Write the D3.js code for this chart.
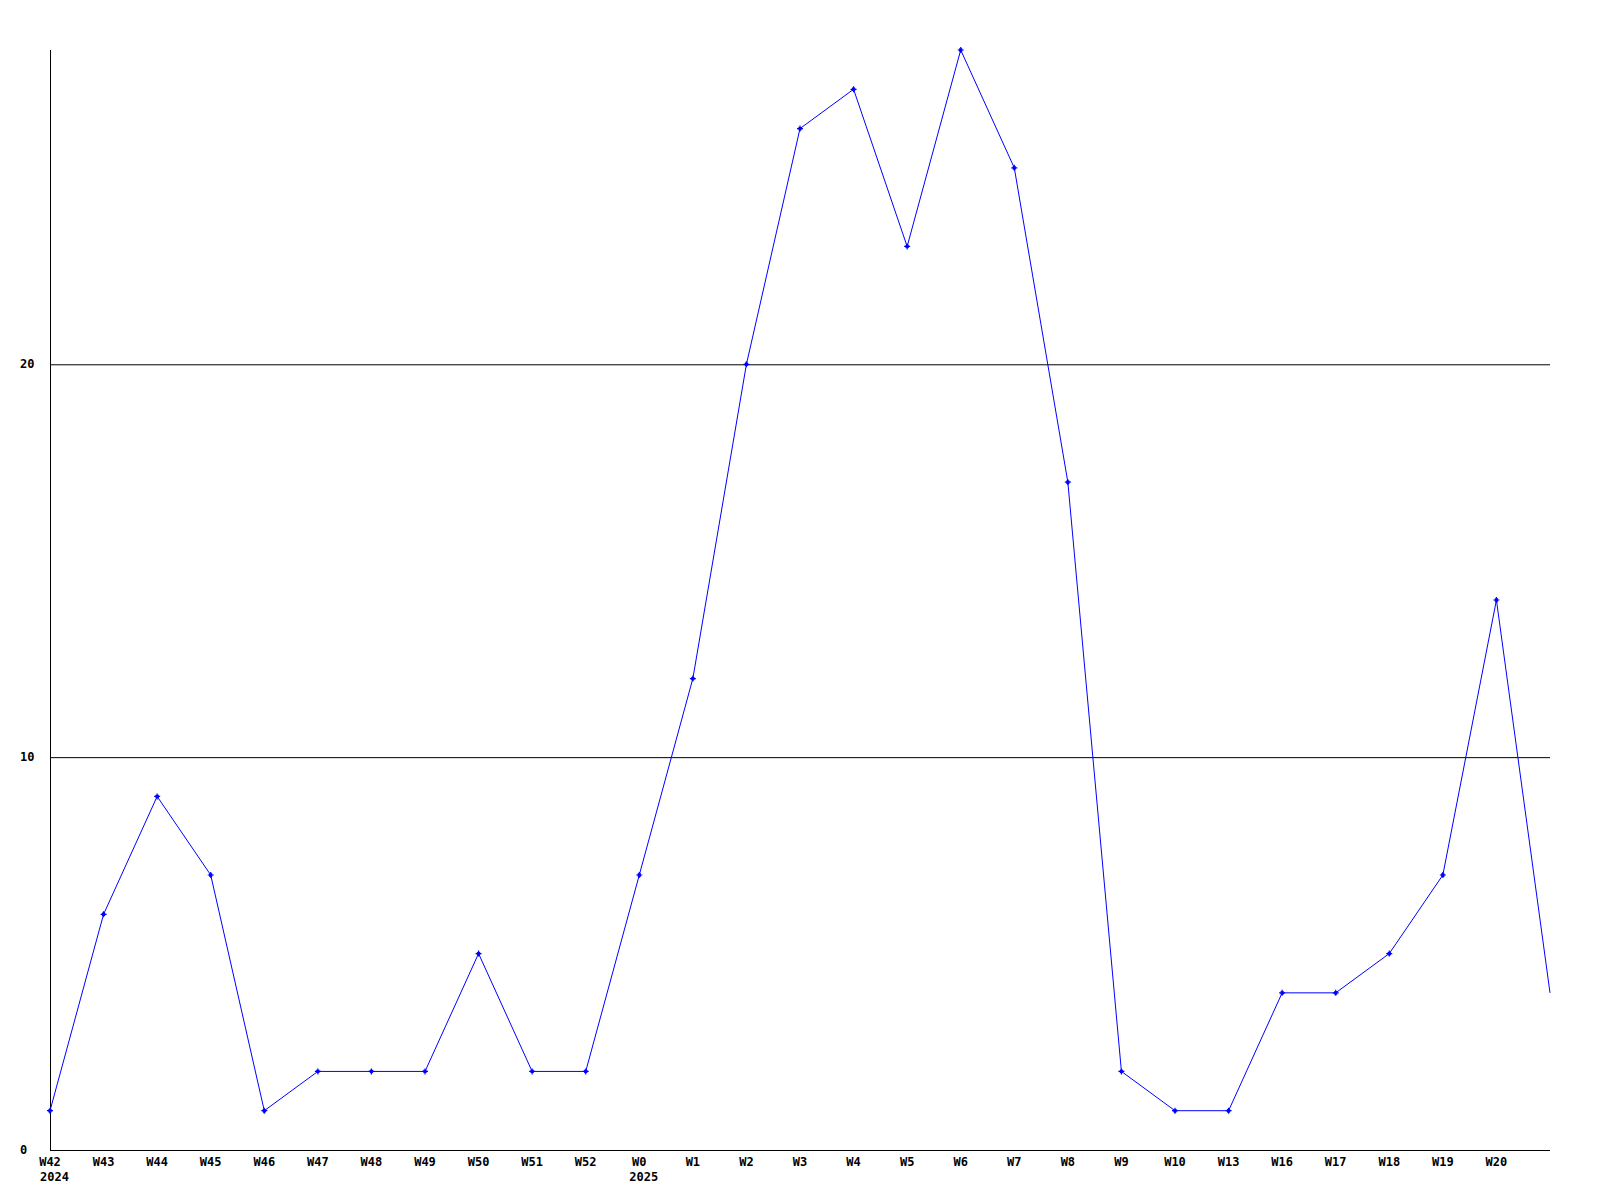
<!DOCTYPE html>
<html><head><meta charset="utf-8">
<script src="https://cdn.jsdelivr.net/npm/d3@7"></script>
<style>body{margin:0;background:#fff}svg{display:block}text{font-family:"DejaVu Sans Mono","Liberation Mono",monospace;font-weight:bold;font-size:12px;fill:#000}</style>
</head><body><svg id="c" width="1600" height="1200"></svg>
<script>
const weeks = ["W42","W43","W44","W45","W46","W47","W48","W49","W50","W51","W52","W0","W1","W2","W3","W4","W5","W6","W7","W8","W9","W10","W13","W16","W17","W18","W19","W20",""];
const values = [1,6,9,7,1,2,2,2,5,2,2,7,12,20,26,27,23,28,25,17,2,1,1,4,4,5,7,14,4];
const yearLabels = [{index:0,label:"2024"},{index:11,label:"2025"}];
const yTicks = [0,10,20];

const svg = d3.select("#c");
const x = d3.scaleLinear().domain([0, values.length-1]).range([50,1550]);
const y = d3.scaleLinear().domain([0,28]).range([1150,50]);

svg.selectAll("line.grid").data(yTicks.filter(d=>d>0)).enter().append("line")
  .attr("x1",50).attr("x2",1550).attr("y1",d=>y(d)+0.5).attr("y2",d=>y(d)+0.5)
  .attr("stroke","#000").attr("stroke-width",1);
svg.append("line").attr("x1",50.5).attr("x2",50.5).attr("y1",50).attr("y2",1150).attr("stroke","#000");
svg.append("line").attr("x1",50).attr("x2",1550).attr("y1",1150.5).attr("y2",1150.5).attr("stroke","#000");
svg.selectAll("text.yl").data(yTicks).enter().append("text")
  .attr("x",20).attr("y",d=>y(d)+4).text(d=>d);
svg.selectAll("text.xl").data(weeks).enter().append("text")
  .attr("x",(d,i)=>x(i)).attr("y",1166).attr("text-anchor","middle").text(d=>d);
svg.selectAll("text.yr").data(yearLabels).enter().append("text")
  .attr("x",d=>x(d.index)-10).attr("y",1181).text(d=>d.label);
svg.append("path").datum(values)
  .attr("d", d3.line().x((d,i)=>x(i)).y(d=>y(d)))
  .attr("fill","none").attr("stroke","#0000ff").attr("stroke-width",1);
const mk = values.slice(0, values.length-1);
svg.selectAll("path.m").data(mk).enter().append("path")
  .attr("d","M-3,0H3M0,-3V3M-1.5,-1.5L1.5,1.5M-1.5,1.5L1.5,-1.5")
  .attr("transform",(d,i)=>`translate(${x(i)},${y(d)})`)
  .attr("stroke","#0000ff").attr("stroke-width",1.2);
</script></body></html>
